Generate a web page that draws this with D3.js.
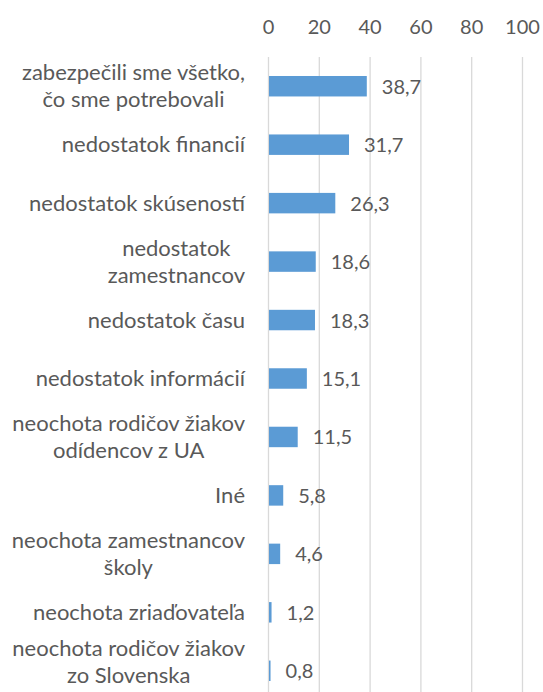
<!DOCTYPE html>
<meta charset="utf-8" />
<script src="https://d3js.org/d3.v7.min.js"></script>
<style>
	body { margin: 0; background: #fff; }
	text { font-family: Lato, "Open Sans", sans-serif; fill: #595959; }
</style>
<div id="chart"></div>
<script>
	// categories (line breaks as in the original labels) and values in %
	var categories = [
		["zabezpečili sme všetko,", "čo sme potrebovali"],
		["nedostatok financií"],
		["nedostatok skúseností"],
		["nedostatok", "zamestnancov"],
		["nedostatok času"],
		["nedostatok informácií"],
		["neochota rodičov žiakov", "odídencov z UA"],
		["Iné"],
		["neochota zamestnancov", "školy"],
		["neochota zriaďovateľa"],
		["neochota rodičov žiakov", "zo Slovenska"]
	];
	var values = [38.7, 31.7, 26.3, 18.6, 18.3, 15.1, 11.5, 5.8, 4.6, 1.2, 0.8];
	var ticks = [0, 20, 40, 60, 80, 100];

	var W = 543, H = 692;
	var margin = { top: 57, right: 20.5, bottom: -8, left: 268.5 };
	var width = W - margin.left - margin.right,
		height = H - margin.top - margin.bottom;
	var numSize = 20, labelSize = 22;

	var svg = d3.select("#chart").append("svg")
		.attr("width", W).attr("height", H)
		.append("g")
		.attr("transform", "translate(" + margin.left + "," + margin.top + ")");

	var x = d3.scaleLinear().domain([0, 100]).range([0, width]);
	var y = d3.scaleBand().domain(d3.range(categories.length))
		.range([0, height]).paddingInner(0.65).paddingOuter(0.325);

	// gridlines
	svg.append("g").selectAll("line").data(ticks).join("line")
		.attr("x1", d => x(d)).attr("x2", d => x(d))
		.attr("y1", 0).attr("y2", height)
		.attr("stroke", "#d9d9d9").attr("stroke-width", 1.3);

	// top tick labels
	svg.append("g").selectAll("text").data(ticks).join("text")
		.attr("x", d => x(d)).attr("y", -23)
		.attr("text-anchor", "middle")
		.style("font-size", numSize + "px")
		.text(d => d);

	// bars
	svg.append("g").selectAll("rect").data(values).join("rect")
		.attr("x", x(0) + 0.5)
		.attr("y", (d, i) => y(i))
		.attr("width", d => Math.max(0, x(d) - x(0) - 0.5))
		.attr("height", y.bandwidth())
		.attr("fill", "#5b9bd5");

	// value labels
	svg.append("g").selectAll("text").data(values).join("text")
		.attr("x", d => x(d) + 15)
		.attr("y", (d, i) => y(i) + y.bandwidth() / 2 + 7.5)
		.style("font-size", numSize + "px")
		.text(d => d3.format(".1f")(d).replace(".", ","));

	// category labels: lines centred within a block, block right-aligned
	var lineH = 27;
	var maxBase = H - margin.top - 9; // keep the last label inside the picture
	categories.forEach(function (lines, i) {
		var t = svg.append("text").style("font-size", labelSize + "px")
			.attr("text-anchor", "middle");
		var cy = y(i) + y.bandwidth() / 2;
		var first = cy + 7.5 - (lines.length - 1) / 2 * lineH;
		var last = first + (lines.length - 1) * lineH;
		if (last > maxBase) first -= last - maxBase;
		lines.forEach(function (l, j) {
			t.append("tspan").attr("x", 0)
				.attr("y", first + j * lineH)
				.text(l);
		});
		var maxW = d3.max(t.selectAll("tspan").nodes(), n => n.getComputedTextLength());
		t.selectAll("tspan").attr("x", -23.5 - maxW / 2);
	});
</script>
